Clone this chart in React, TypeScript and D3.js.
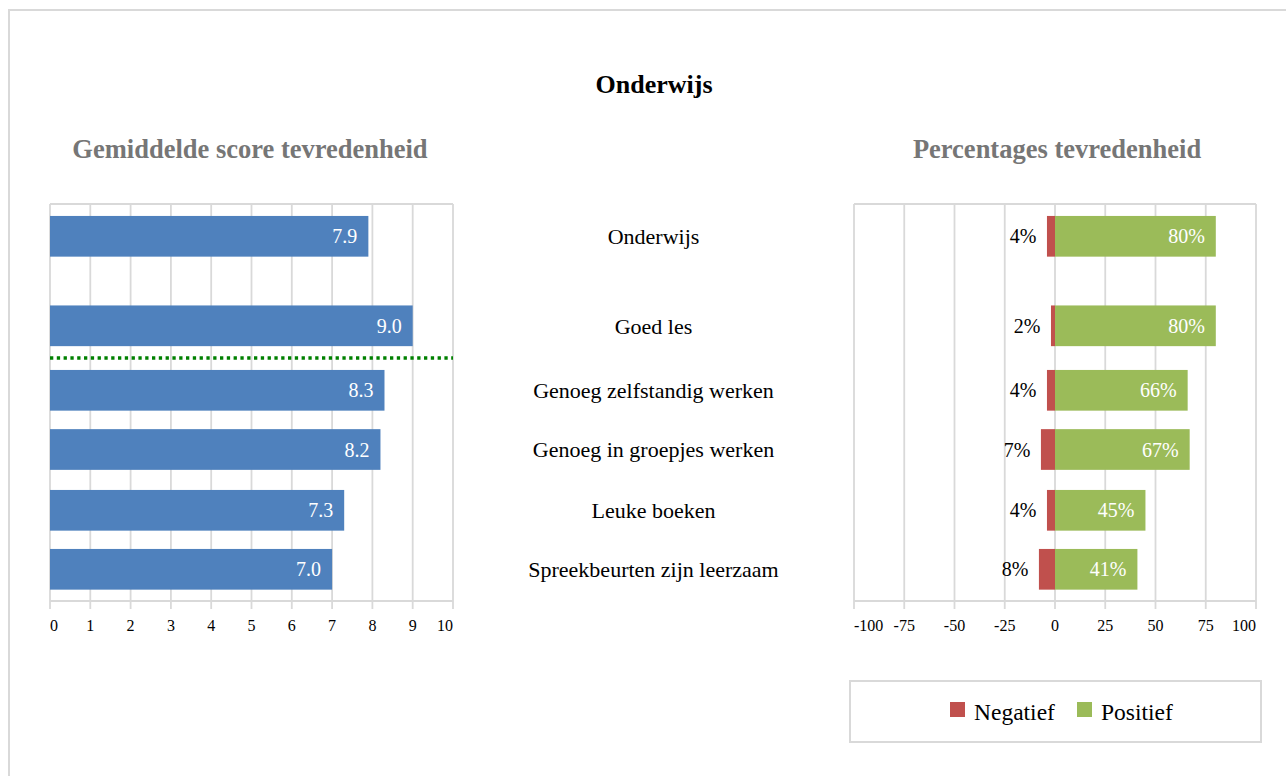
import React from "react";
import * as d3 from "d3";

const categories = [
  "Onderwijs",
  "Goed les",
  "Genoeg zelfstandig werken",
  "Genoeg in groepjes werken",
  "Leuke boeken",
  "Spreekbeurten zijn leerzaam",
];
const scores = [7.9, 9.0, 8.3, 8.2, 7.3, 7.0];
const negatief = [4, 2, 4, 7, 4, 8];
const positief = [80, 80, 66, 67, 45, 41];
const scoreTicks = [0, 1, 2, 3, 4, 5, 6, 7, 8, 9, 10];
const pctTicks = [-100, -75, -50, -25, 0, 25, 50, 75, 100];
const legendItems = ["Negatief", "Positief"];

// layout
const W = 1286;
const H = 776;
const ROW_CENTERS = [236.3, 325.8, 390.3, 449.5, 510.3, 569.3];
const BAR_H = 40.7;
const PLOT_TOP = 204;
const PLOT_BOTTOM = 601;
const GRID = "#d9d9d9";
const BLUE = "#4f81bd";
const RED = "#c0504d";
const GREEN = "#9bbb59";
const FONT = "'Liberation Serif', 'Times New Roman', serif";

export default function App() {
  const xL = d3.scaleLinear().domain([0, 10]).range([50, 453]);
  const xR = d3.scaleLinear().domain([-100, 100]).range([854, 1256]);
  const y = d3.scaleOrdinal<string, number>().domain(categories).range(ROW_CENTERS);
  const fmt1 = d3.format(".1f");

  const lastL = scoreTicks.length - 1;
  const lastR = pctTicks.length - 1;

  return (
    <svg
      width={W}
      height={H}
      style={{ position: "absolute", left: 0, top: 0, fontFamily: FONT }}
    >
      <rect x={0} y={0} width={W} height={H} fill="#fff" />
      {/* outer frame */}
      <rect x={9} y={10} width={W + 20} height={H + 20} fill="none" stroke={GRID} strokeWidth={2} />

      {/* titles */}
      <text x={654} y={92.5} textAnchor="middle" fontSize={26} fontWeight="bold" fill="#000">
        Onderwijs
      </text>
      <text x={250} y={157.5} textAnchor="middle" fontSize={26.5} fontWeight="bold" fill="#767676">
        Gemiddelde score tevredenheid
      </text>
      <text x={1057} y={157.5} textAnchor="middle" fontSize={26.5} fontWeight="bold" fill="#767676">
        Percentages tevredenheid
      </text>

      {/* LEFT CHART */}
      <g>
        {scoreTicks.map((t) => (
          <line key={"gl" + t} x1={xL(t)} x2={xL(t)} y1={PLOT_TOP} y2={PLOT_BOTTOM + 8} stroke={GRID} strokeWidth={1.8} />
        ))}
        <line x1={xL(0)} x2={xL(10)} y1={PLOT_TOP} y2={PLOT_TOP} stroke={GRID} strokeWidth={1.8} />
        <line x1={xL(0)} x2={xL(10)} y1={PLOT_BOTTOM} y2={PLOT_BOTTOM} stroke={GRID} strokeWidth={1.8} />
        {categories.map((c, i) => (
          <g key={"lb" + c}>
            <rect x={xL(0)} y={y(c) - BAR_H / 2} width={xL(scores[i]) - xL(0)} height={BAR_H} fill={BLUE} />
            <text x={xL(scores[i]) - 11} y={y(c)} dy="0.35em" textAnchor="end" fontSize={20} fill="#fff">
              {fmt1(scores[i])}
            </text>
          </g>
        ))}
        <line
          x1={xL(0)}
          x2={xL(10)}
          y1={(y(categories[1]) + y(categories[2])) / 2}
          y2={(y(categories[1]) + y(categories[2])) / 2}
          stroke="#008000"
          strokeWidth={3.5}
          strokeDasharray="3.3 3.5"
        />
        {scoreTicks.map((t, i) => (
          <text
            key={"tl" + t}
            x={xL(t)}
            y={630.5}
            textAnchor={i === 0 ? "start" : i === lastL ? "end" : "middle"}
            fontSize={16}
            fill="#000"
          >
            {t}
          </text>
        ))}
      </g>

      {/* CATEGORY LABELS */}
      {categories.map((c) => (
        <text key={"cl" + c} x={653.5} y={y(c)} dy="0.35em" textAnchor="middle" fontSize={22} fill="#000">
          {c}
        </text>
      ))}

      {/* RIGHT CHART */}
      <g>
        {pctTicks.map((t) => (
          <line key={"gr" + t} x1={xR(t)} x2={xR(t)} y1={PLOT_TOP} y2={PLOT_BOTTOM + 8} stroke={GRID} strokeWidth={1.8} />
        ))}
        <line x1={xR(-100)} x2={xR(100)} y1={PLOT_TOP} y2={PLOT_TOP} stroke={GRID} strokeWidth={1.8} />
        <line x1={xR(-100)} x2={xR(100)} y1={PLOT_BOTTOM} y2={PLOT_BOTTOM} stroke={GRID} strokeWidth={1.8} />
        {categories.map((c, i) => (
          <g key={"rb" + c}>
            <rect x={xR(-negatief[i])} y={y(c) - BAR_H / 2} width={xR(0) - xR(-negatief[i])} height={BAR_H} fill={RED} />
            <rect x={xR(0)} y={y(c) - BAR_H / 2} width={xR(positief[i]) - xR(0)} height={BAR_H} fill={GREEN} />
            <text x={xR(-negatief[i]) - 10.5} y={y(c)} dy="0.35em" textAnchor="end" fontSize={20} fill="#000">
              {negatief[i]}%
            </text>
            <text x={xR(positief[i]) - 11} y={y(c)} dy="0.35em" textAnchor="end" fontSize={20} fill="#fff">
              {positief[i]}%
            </text>
          </g>
        ))}
        {pctTicks.map((t, i) => (
          <text
            key={"tr" + t}
            x={xR(t)}
            y={630.5}
            textAnchor={i === 0 ? "start" : i === lastR ? "end" : "middle"}
            fontSize={16}
            fill="#000"
          >
            {t}
          </text>
        ))}
      </g>

      {/* LEGEND */}
      <g>
        <rect x={850} y={681} width={411} height={61} fill="#fff" stroke={GRID} strokeWidth={2} />
        {legendItems.map((name, i) => {
          const lx = i === 0 ? 950 : 1077;
          return (
            <g key={"lg" + name}>
              <rect x={lx} y={702} width={15} height={15} fill={i === 0 ? RED : GREEN} />
              <text x={lx + 24} y={720} fontSize={23.5} fill="#000">
                {name}
              </text>
            </g>
          );
        })}
      </g>
    </svg>
  );
}
